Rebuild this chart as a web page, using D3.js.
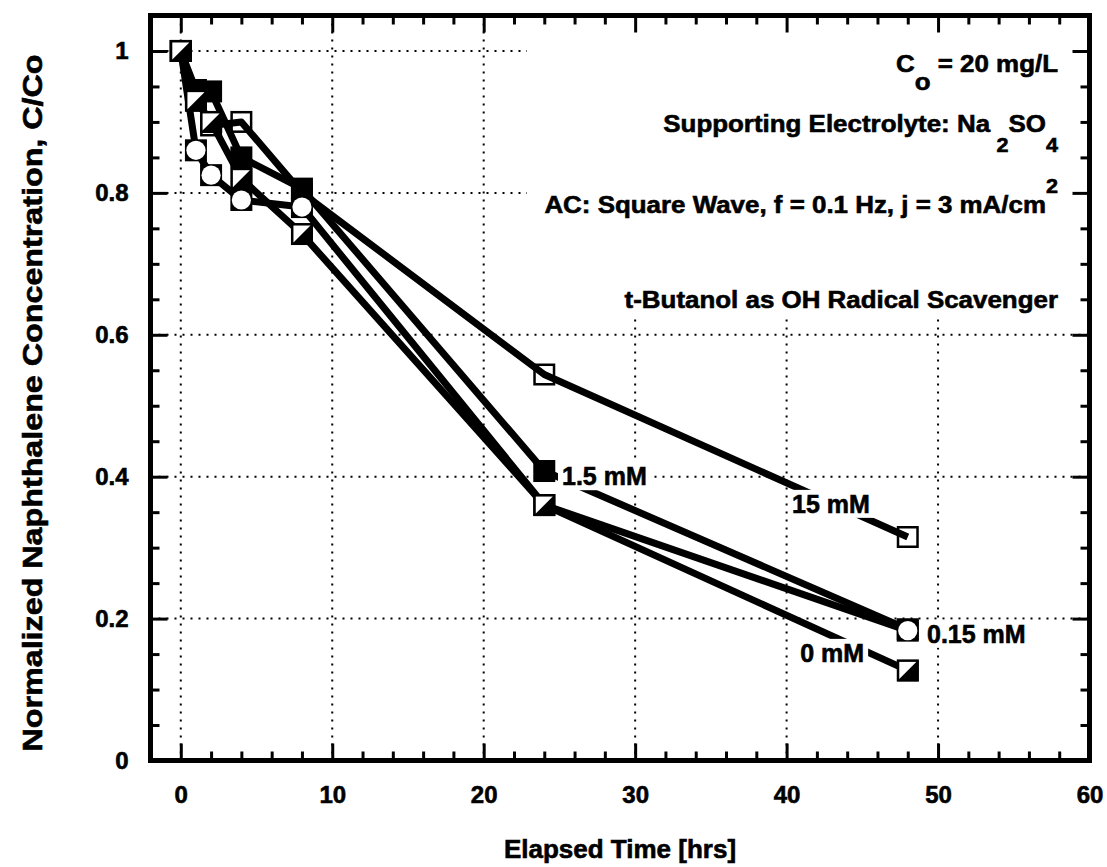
<!DOCTYPE html>
<html><head><meta charset="utf-8">
<script src="https://cdn.jsdelivr.net/npm/d3@7"></script>
<style>
body{margin:0;background:#fff;}
svg text{font-family:"Liberation Sans",Arial,Helvetica,sans-serif;font-weight:bold;fill:#000;
  stroke:#000;stroke-width:0.6px;paint-order:stroke;}
</style></head><body>
<svg id="chart" width="1107" height="867"></svg>
<script>
// Sampling times (hours) and normalized naphthalene concentration C/Co per t-butanol dose
const times      = [0, 1, 2, 4, 8, 24, 48];
const conc15mM   = [1.00, 0.935, 0.895, 0.900, 0.800, 0.544, 0.315];
const conc1_5mM  = [1.00, 0.945, 0.943, 0.850, 0.806, 0.408, 0.185];
const conc0_15mM = [1.00, 0.860, 0.825, 0.790, 0.780, 0.360, 0.183];
const conc0mM    = [1.00, 0.930, 0.900, 0.820, 0.742, 0.360, 0.127];
const seriesNames = ["15 mM", "1.5 mM", "0.15 mM", "0 mM"];
const seriesMarkers = ["openSquare", "filledSquare", "circleSquare", "halfSquare"];

// Series label anchors (data units: hours, C/Co at text baseline)
const labelTimes = [40.36, 25.17, 49.27, 40.9];
const labelConcs = [0.349, 0.388, 0.166, 0.139];

const xTickValues = [0, 10, 20, 30, 40, 50, 60];
const yTickValues = [0, 0.2, 0.4, 0.6, 0.8, 1];
const yTickLabels = ["0", "0.2", "0.4", "0.6", "0.8", "1"];

// Condition notes shown in the upper-right corner
const noteLines = [
  [{t: "C"}, {t: "o", shift: 18}, {t: " = 20 mg/L"}],
  [{t: "Supporting Electrolyte: Na"}, {t: "2", shift: 20, small: true, dx: 6}, {t: "SO"}, {t: "4", shift: 20, small: true}],
  [{t: "AC: Square Wave, f = 0.1 Hz, j = 3 mA/cm"}, {t: "2", shift: -20, small: true}],
  [{t: "t-Butanol as OH Radical Scavenger"}]
];
const noteBaselines = [72, 132, 213, 308];

const seriesValues = [conc15mM, conc1_5mM, conc0_15mM, conc0mM];

const svg = d3.select("#chart");
const pL = 150.5, pR = 1089.5, pT = 15.5, pB = 760.5;
const x = d3.scaleLinear().domain([-2, 60]).range([pL, pR]);
const y = d3.scaleLinear().domain([0, 1.05]).range([pB, pT]);

// dotted grid at major ticks
const grid = svg.append("g").attr("stroke", "#000").attr("stroke-width", 2).attr("stroke-dasharray", "2,6");
grid.selectAll("line.gx").data(xTickValues.filter(d => d < 60)).join("line").attr("class", "gx")
  .attr("x1", d => x(d)).attr("x2", d => x(d)).attr("y1", pT).attr("y2", pB);
grid.selectAll("line.gy").data(yTickValues.filter(d => d > 0)).join("line").attr("class", "gy")
  .attr("y1", d => y(d)).attr("y2", d => y(d)).attr("x1", pL).attr("x2", pR);

// white panel behind the condition notes
svg.append("rect").attr("x", 527).attr("y", 18).attr("width", 1087 - 527).attr("height", 300).attr("fill", "#fff");

// series lines and markers
const line = d3.line().x(d => x(d[0])).y(d => y(d[1]));
const S = 22;
function drawMarker(g, kind, cx, cy) {
  const x0 = cx - S / 2, y0 = cy - S / 2;
  if (kind === "openSquare") {
    g.append("rect").attr("x", x0 + 1.25).attr("y", y0 + 1.25).attr("width", S - 2.5).attr("height", S - 2.5)
      .attr("fill", "none").attr("stroke", "#000").attr("stroke-width", 2.5);
  } else if (kind === "filledSquare") {
    g.append("rect").attr("x", x0).attr("y", y0).attr("width", S).attr("height", S).attr("fill", "#000");
  } else if (kind === "circleSquare") {
    g.append("rect").attr("x", x0).attr("y", y0).attr("width", S).attr("height", S).attr("fill", "#000");
    g.append("circle").attr("cx", cx).attr("cy", cy).attr("r", S / 2 - 1.4).attr("fill", "#fff");
  } else {
    g.append("rect").attr("x", x0 + 1.25).attr("y", y0 + 1.25).attr("width", S - 2.5).attr("height", S - 2.5)
      .attr("fill", "#fff").attr("stroke", "#000").attr("stroke-width", 2.5);
    g.append("path").attr("d", `M${x0 + S},${y0}L${x0 + S},${y0 + S}L${x0},${y0 + S}Z`).attr("fill", "#000");
  }
}
seriesValues.forEach((vals, i) => {
  const pts = times.map((t, j) => [t, vals[j]]);
  const g = svg.append("g").attr("class", "series");
  g.append("path").attr("d", line(pts)).attr("fill", "none").attr("stroke", "#000")
    .attr("stroke-width", 7).attr("stroke-linejoin", "round");
  pts.forEach(p => drawMarker(g, seriesMarkers[i], x(p[0]), y(p[1])));
});

// series labels on white backing
seriesNames.forEach((name, i) => {
  const g = svg.append("g");
  const bg = g.append("rect").attr("fill", "#fff");
  const t = g.append("text").attr("x", x(labelTimes[i])).attr("y", y(labelConcs[i]))
    .attr("font-size", 25).text(name);
  const b = t.node().getBBox();
  bg.attr("x", b.x - 4).attr("y", b.y).attr("width", b.width + 8).attr("height", b.height);
});

// condition notes
noteLines.forEach((segs, i) => {
  const g = svg.append("g").attr("transform", `translate(1058,${noteBaselines[i]}) scale(1.08,1)`);
  const t = g.append("text").attr("x", 0).attr("y", 0).attr("text-anchor", "end").attr("font-size", 24);
  let cur = 0;
  segs.forEach(s => {
    const ts = t.append("tspan").text(s.t);
    const want = s.shift || 0;
    if (want !== cur) { ts.attr("dy", want - cur); cur = want; }
    if (s.small) ts.attr("font-size", 20);
    if (s.dx) ts.attr("dx", s.dx);
  });
});

// axes with inward ticks
function styleAxis(g) {
  g.select(".domain").remove();
  g.selectAll(".tick line").attr("stroke", "#000").attr("stroke-width", 3);
  g.selectAll(".tick text").attr("font-size", 24).attr("fill", "#000")
    .attr("font-family", '"Liberation Sans",Arial,sans-serif').attr("font-weight", "bold");
}
const xMinor = d3.range(0, 60, 2).filter(d => d % 10 !== 0);
const yMinor = d3.range(1, 21).filter(i => i % 4 !== 0).map(i => i * 0.05);

svg.append("g").attr("transform", `translate(0,${pB})`)
  .call(d3.axisBottom(x).tickValues(xTickValues).tickSizeInner(-17).tickSizeOuter(0).tickPadding(25.5).tickFormat(d3.format("d")))
  .call(styleAxis);
svg.append("g").attr("transform", `translate(0,${pB})`)
  .call(d3.axisBottom(x).tickValues(xMinor).tickSize(-9).tickFormat("")).call(styleAxis);
svg.append("g").attr("transform", `translate(0,${pT})`)
  .call(d3.axisTop(x).tickValues(xTickValues).tickSize(-17).tickFormat("")).call(styleAxis);
svg.append("g").attr("transform", `translate(0,${pT})`)
  .call(d3.axisTop(x).tickValues(xMinor).tickSize(-9).tickFormat("")).call(styleAxis);
svg.append("g").attr("transform", `translate(${pL},0)`)
  .call(d3.axisLeft(y).tickValues(yTickValues).tickSizeInner(-17).tickSizeOuter(0).tickPadding(22)
    .tickFormat((d, i) => yTickLabels[i]))
  .call(styleAxis);
svg.append("g").attr("transform", `translate(${pL},0)`)
  .call(d3.axisLeft(y).tickValues(yMinor).tickSize(-9).tickFormat("")).call(styleAxis);
svg.append("g").attr("transform", `translate(${pR},0)`)
  .call(d3.axisRight(y).tickValues(yTickValues).tickSize(-17).tickFormat("")).call(styleAxis);
svg.append("g").attr("transform", `translate(${pR},0)`)
  .call(d3.axisRight(y).tickValues(yMinor).tickSize(-9).tickFormat("")).call(styleAxis);

// plot frame
svg.append("rect").attr("x", pL).attr("y", pT).attr("width", pR - pL).attr("height", pB - pT)
  .attr("fill", "none").attr("stroke", "#000").attr("stroke-width", 5);

// axis titles
svg.append("text").attr("x", (pL + pR) / 2).attr("y", 858).attr("text-anchor", "middle")
  .attr("font-size", 26).text("Elapsed Time [hrs]");
svg.append("text").attr("transform", "translate(42,403) rotate(-90)").attr("text-anchor", "middle")
  .attr("font-size", 28).attr("textLength", 697).attr("lengthAdjust", "spacingAndGlyphs")
  .text("Normalized Naphthalene Concentration, C/Co");
</script>
</body></html>
